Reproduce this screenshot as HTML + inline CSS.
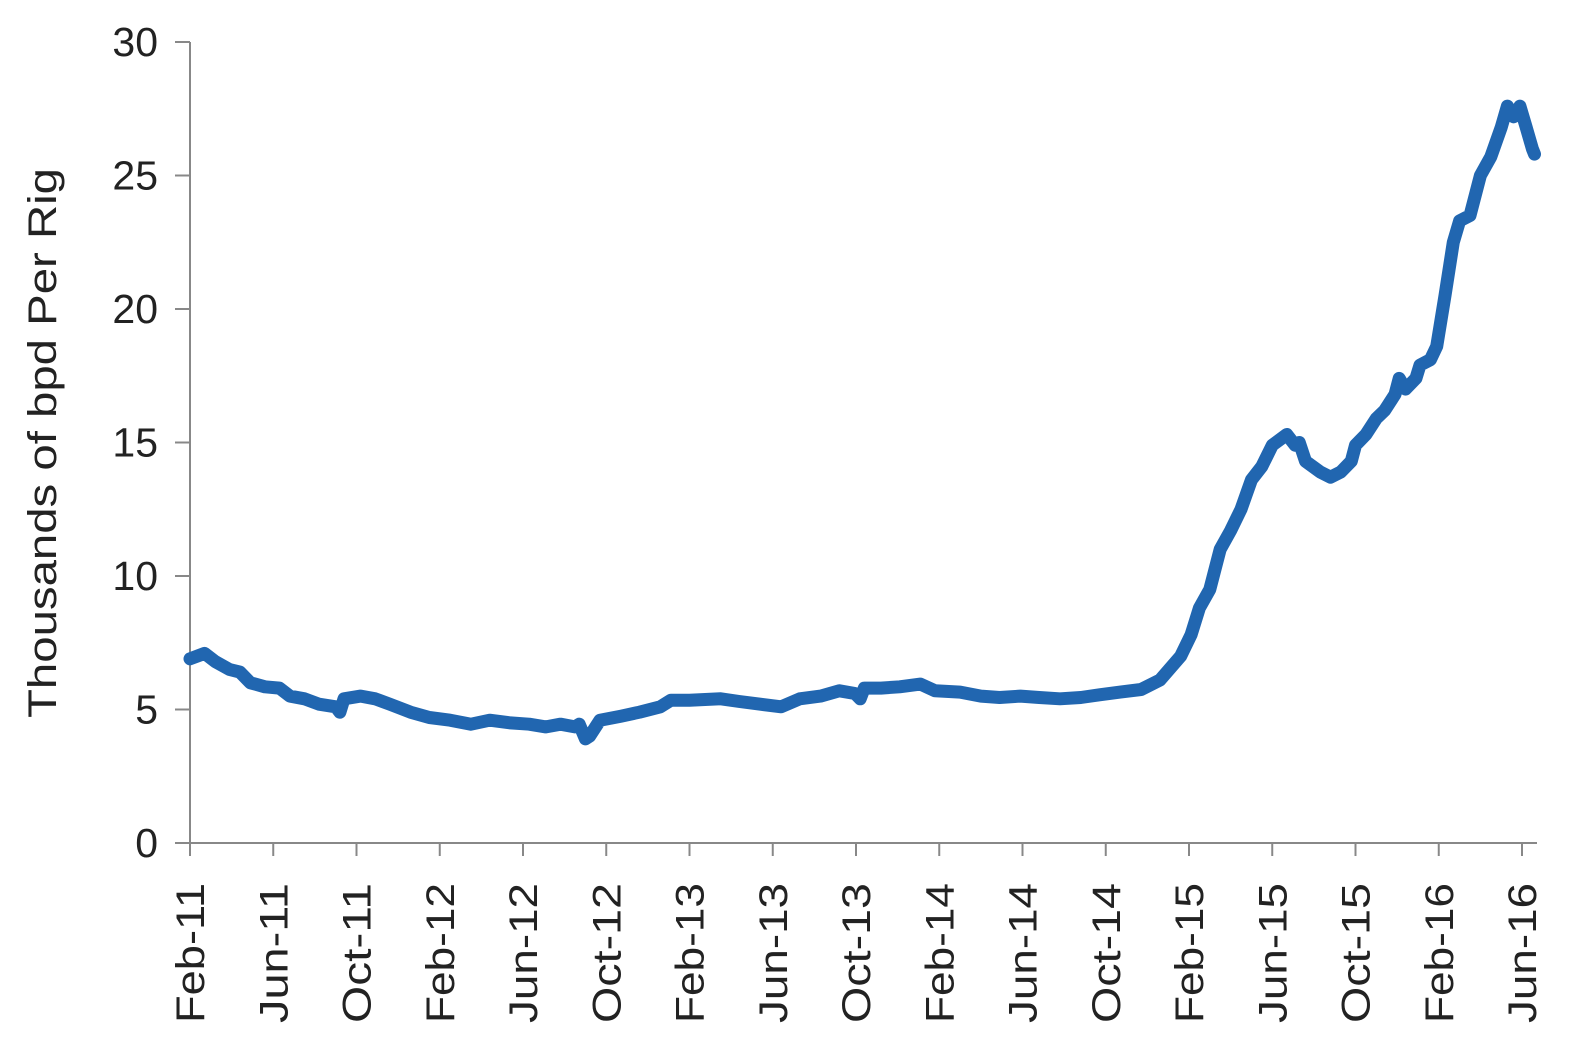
<!DOCTYPE html>
<html><head><meta charset="utf-8">
<style>
html,body{margin:0;padding:0;background:#fff;}
svg{display:block;font-family:"Liberation Sans",sans-serif;}
</style></head>
<body>
<svg id="chart" width="1581" height="1055" viewBox="0 0 1581 1055" xmlns="http://www.w3.org/2000/svg">
<g id="axes"></g>
<path id="line" fill="none" stroke="#2166b0" stroke-width="13" stroke-linejoin="round" stroke-linecap="round"></path>
<text transform="translate(56,443) rotate(-90)" text-anchor="middle" font-size="40" fill="#222" textLength="550" lengthAdjust="spacingAndGlyphs">Thousands of bpd Per Rig</text>
</svg>
<script>
const xTickLabels = ["Feb-11","Jun-11","Oct-11","Feb-12","Jun-12","Oct-12","Feb-13","Jun-13","Oct-13","Feb-14","Jun-14","Oct-14","Feb-15","Jun-15","Oct-15","Feb-16","Jun-16"];
const yTicks = [0,5,10,15,20,25,30];
// months since Feb-11
const months = [0,0.7,1.2,1.9,2.4,2.9,3.6,4.3,4.8,5.5,6.2,7.0,7.2,7.4,8.2,8.9,9.6,10.6,11.5,12.5,13.5,14.4,15.4,16.3,17.1,17.8,18.5,18.7,19.0,19.2,19.7,20.7,21.6,22.6,23.1,24.0,25.5,26.4,27.4,28.4,29.3,30.3,31.2,31.95,32.2,32.4,33.2,34.1,35.1,35.8,37.0,38.0,38.9,39.9,40.8,41.8,42.8,43.7,44.7,45.7,46.6,47.6,48.1,48.5,49.0,49.5,50.0,50.5,51.0,51.5,52.0,52.7,53.1,53.3,53.6,54.3,54.8,55.3,55.8,56.0,56.5,57.0,57.4,57.9,58.1,58.4,58.9,59.1,59.6,59.9,60.3,60.7,61.0,61.5,62.0,62.5,63.0,63.3,63.6,63.9,64.2,64.5,64.6];
const values = [6.9,7.1,6.8,6.5,6.4,6.0,5.85,5.8,5.5,5.4,5.2,5.1,4.9,5.4,5.5,5.4,5.2,4.9,4.7,4.6,4.45,4.6,4.5,4.45,4.35,4.45,4.35,4.45,3.9,4.0,4.6,4.75,4.9,5.1,5.35,5.35,5.4,5.3,5.2,5.1,5.4,5.5,5.7,5.6,5.4,5.8,5.8,5.85,5.95,5.7,5.65,5.5,5.45,5.5,5.45,5.4,5.45,5.55,5.65,5.75,6.1,7.0,7.8,8.8,9.5,11.0,11.7,12.5,13.6,14.1,14.9,15.3,14.9,15.0,14.3,13.9,13.7,13.9,14.3,14.9,15.3,15.9,16.2,16.8,17.4,17.0,17.4,17.9,18.1,18.6,20.5,22.5,23.3,23.5,25.0,25.7,26.8,27.6,27.2,27.6,26.8,26.0,25.8];

const x0=190, y0=843, yTop=42, pxPerMonth=(1522-190)/64;
const xs = m => x0 + m*pxPerMonth;
const ys = v => y0 - (v/30)*(y0-yTop);
const NS="http://www.w3.org/2000/svg";
const axes=document.getElementById('axes');
function mk(tag,attrs){const e=document.createElementNS(NS,tag);for(const k in attrs)e.setAttribute(k,attrs[k]);axes.appendChild(e);return e;}
let e=mk('line',{x1:x0,y1:yTop,x2:x0,y2:y0,stroke:'#888','stroke-width':2});


e=mk('line',{x1:x0,y1:y0,x2:1537,y2:y0,stroke:'#888','stroke-width':2});


yTicks.forEach(v=>{
  let t=mk('line',{x1:175,y1:ys(v),x2:x0,y2:ys(v),stroke:'#888','stroke-width':2});
  
  
  let l=mk('text',{x:158,y:ys(v)+14,'text-anchor':'end','font-size':41,fill:'#222'});
  l.textContent=v;
  
  
});
xTickLabels.forEach((s,i)=>{
  const x=xs(i*4);
  let t=mk('line',{x1:x,y1:y0,x2:x,y2:856,stroke:'#888','stroke-width':2});
  
  
  let l=mk('text',{transform:`translate(${x+14},883) rotate(-90)`,'text-anchor':'end','font-size':40,fill:'#222',textLength:140,lengthAdjust:'spacingAndGlyphs'});
  l.textContent=s;
  
  
});
document.getElementById('line').setAttribute('d',months.map((m,i)=>(i?'L':'M')+xs(m).toFixed(1)+','+ys(values[i]).toFixed(1)).join(''));
</script>
</body></html>
